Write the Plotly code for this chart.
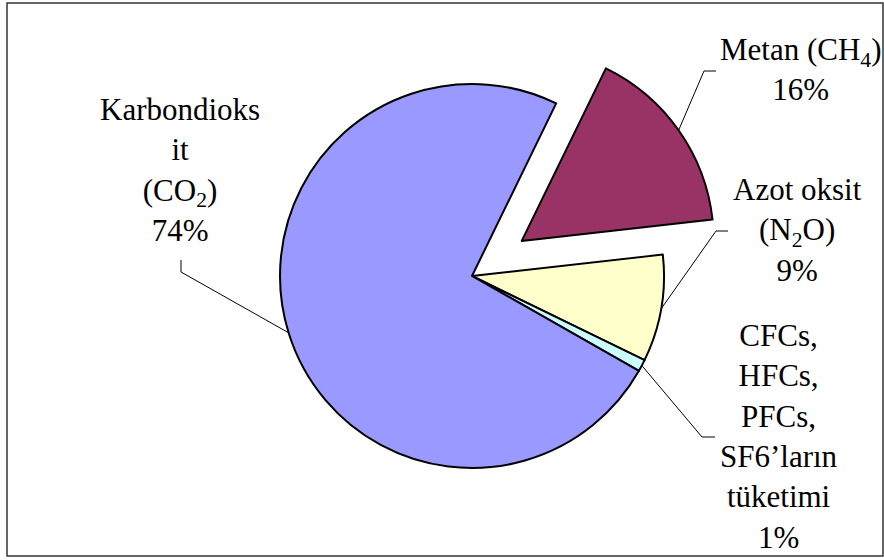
import math
import plotly.graph_objects as go

# Greenhouse gas shares (%), drawn clockwise starting with methane
labels = ["Metan (CH<sub>4</sub>)", "Azot oksit<br>(N<sub>2</sub>O)",
          "CFCs,<br>HFCs,<br>PFCs,<br>SF6’ların<br>tüketimi", "Karbondioks<br>it<br>(CO<sub>2</sub>)"]
values = [16, 9, 1, 74]
pulls = [0.317, 0, 0, 0]
colors = ["#993366", "#FFFFCC", "#CCFFFF", "#9999FF"]

W, H = 884, 560
CX, CY, R = 472, 276, 192          # pie centre and radius in pixels
ROTATION = 26                      # start angle of first slice (deg, clockwise from 12 o'clock)

half = R * (1 + max(pulls))
dom_x = [(CX - half) / W, (CX + half) / W]
dom_y = [1 - (CY + half) / H, 1 - (CY - half) / H]

FONT = "'Liberation Serif', 'Times New Roman', 'DejaVu Serif', serif"

fig = go.Figure(go.Pie(
    labels=labels,
    values=values,
    pull=pulls,
    sort=False,
    direction="clockwise",
    rotation=ROTATION,
    textinfo="none",
    hoverinfo="label+percent",
    marker=dict(colors=colors, line=dict(color="black", width=2)),
    domain=dict(x=dom_x, y=dom_y),
    showlegend=False,
))


def px(x, y):
    return x / W, 1 - y / H


# mid-angle point on each slice's outer arc
total = sum(values)
arc_pts = []
acc = 0.0
for v, p in zip(values, pulls):
    mid = math.radians(ROTATION + 360 * (acc + v / 2) / total)
    acc += v
    ox = CX + p * R * math.sin(mid)
    oy = CY - p * R * math.cos(mid)
    arc_pts.append((ox + R * math.sin(mid), oy - R * math.cos(mid)))

# elbow and end points of each leader line (pixels)
leader_bends = [[(704, 71), (716, 71)],
                [(716, 231), (728, 231)],
                [(702, 437), (715, 437)],
                [(181, 272), (181, 260)]]

shapes = []
for start, bends in zip(arc_pts, leader_bends):
    pts = [px(*start)] + [px(*b) for b in bends]
    path = "M " + " L ".join(f"{x:.5f},{y:.5f}" for x, y in pts)
    shapes.append(dict(type="path", path=path, xref="paper", yref="paper",
                       line=dict(color="black", width=1)))

# chart frame
shapes.append(dict(type="rect", xref="paper", yref="paper",
                   x0=7 / W, x1=883 / W, y0=1 - 556 / H, y1=1 - 3 / H,
                   line=dict(color="#333333", width=1.5)))

label_pos = [(801, 69), (797, 230), (779, 436), (180, 170)]
annotations = []
for lab, v, (x, y) in zip(labels, values, label_pos):
    ax, ay = px(x, y)
    annotations.append(dict(text=f"{lab}<br>{v}%", x=ax, y=ay, xref="paper", yref="paper",
                            xanchor="center", yanchor="middle", showarrow=False,
                            align="center", font=dict(family=FONT, size=31, color="black")))

fig.update_layout(
    width=W, height=H,
    margin=dict(l=0, r=0, t=0, b=0),
    paper_bgcolor="white",
    plot_bgcolor="white",
    font=dict(family=FONT),
    shapes=shapes,
    annotations=annotations,
)

fig.write_html("out.html")
